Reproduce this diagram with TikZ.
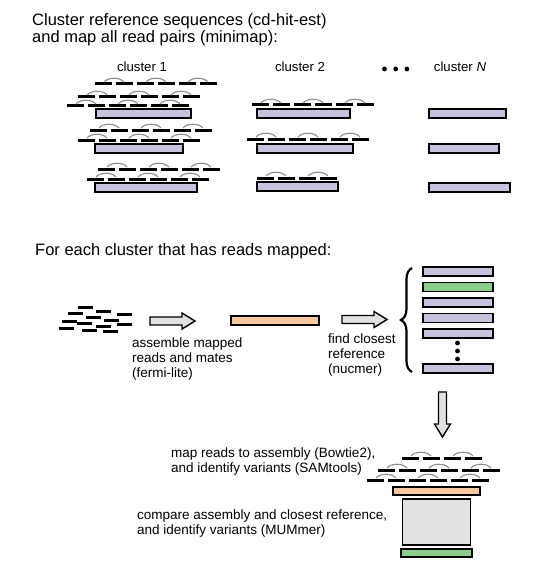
\documentclass[tikz,border=0pt]{standalone}
\usepackage{fontspec}
\setmainfont{Liberation Sans}
\usetikzlibrary{positioning,decorations.pathreplacing}
\definecolor{refpurple}{RGB}{200,194,222}
\definecolor{asmorange}{RGB}{246,200,160}
\definecolor{hitgreen}{RGB}{140,204,140}
\definecolor{boxgray}{RGB}{226,226,226}
\tikzset{
  refbar/.style={rectangle, draw=black, line width=1.6pt, fill=refpurple, minimum height=9, inner sep=0, outer sep=0, anchor=north west},
  asmbar/.style={refbar, fill=asmorange},
  hitbar/.style={refbar, fill=hitgreen},
  cmpbox/.style={refbar, fill=boxgray},
  rd/.style={line width=3pt, black},
  mate/.style={black!45, line width=1.1pt},
  hd/.style={font=\fontsize{16.5}{17}\selectfont, align=left, anchor=north west, inner sep=0},
  lbl/.style={font=\fontsize{13.5}{15}\selectfont, align=left, anchor=north west, inner sep=0},
  cl/.style={font=\fontsize{13.2}{15}\selectfont, inner sep=0},
  blk/.style={draw=black, line width=1.4pt, fill=boxgray, line join=miter},
  readpair/.pic={
    \draw[rd] (0,0) -- (17,0);
    \draw[rd] (21,0) -- (38,0);
    \draw[mate] (9,-2) .. controls (13,-7) and (25,-7) .. (29,-2);
  },
  blockarrow/.pic={
    \draw[blk] (0,-4) -- (32,-4) -- (32,-8) -- (45,0) -- (32,8) -- (32,4) -- (0,4) -- cycle;
  },
  node distance=6.5pt
}

\begin{document}
\begin{tikzpicture}[x=1pt, y=-1pt]
	\useasboundingbox (0,0) rectangle (540,583);
	% clusters
	\node[hd] (title) at (32,13) {Cluster reference sequences (cd-hit-est)\\and map all read pairs (minimap):};
	\node[cl] (lab1) at (142,67) {cluster 1};
	\node[cl] (lab2) at (300,67) {cluster 2};
	\node[cl] (labN) at (460,67) {cluster \textit{N}};
	\foreach \x in {384.5,395.7,406.9} \fill (\x,69) circle (2.4);
	%
	\node[refbar, minimum width=95] (c1a) at (96,109) {};
	\node[refbar, minimum width=88] (c1b) at (95,144) {};
	\node[refbar, minimum width=102] (c1c) at (95,183) {};
	\node[refbar, minimum width=93] (c2a) at (257,109) {};
	\node[refbar, minimum width=96] (c2b) at (257,144) {};
	\node[refbar, minimum width=81] (c2c) at (257,182) {};
	\node[refbar, minimum width=77] (cNa) at (429,109) {};
	\node[refbar, minimum width=70] (cNb) at (429,144) {};
	\node[refbar, minimum width=81] (cNc) at (429,183) {};
	% mapped read pairs
	\foreach \x/\y/\n in {95/84/3, 78/97/3, 67/106/3, 90/130/3, 78/140/3, 98/169/3, 87/179/3,
	                      252/105/3, 247/139/3, 257/178/2, 402/458/2, 378/470/3, 367/480/3}
	  \foreach \k in {1,...,\n}
	    \pic at ({\x+42*(\k-1)},\y) {readpair};
	%
	\node[hd] (each) at (35,243.5) {For each cluster that has reads mapped:};
	\foreach \x/\y in {78/307, 96/311, 68/313, 117/314, 86/317, 104/320, 62/321,
	                   77/323, 117/324, 96/326, 59/328, 82/330, 103/331}
	  \draw[rd] (\x,\y) -- ++(15,0);
	\pic (arr1) at (150,321) {blockarrow};
	\node[asmbar, minimum width=88] (asm) at (231,316) {};
	\node[lbl] (asmtxt) at (132,338) {assemble mapped\\reads and mates\\(fermi-lite)};
	\pic (arr2) at (342,319.5) {blockarrow};
	\node[lbl] (findtxt) at (328,334) {find closest\\reference\\(nucmer)};
	% candidate references
	\node[refbar, minimum width=70] (s1) at (423,267) {};
	\node[hitbar, minimum width=70, below=of s1] (s2) {};
	\node[refbar, minimum width=70, below=of s2] (s3) {};
	\node[refbar, minimum width=70, below=of s3] (s4) {};
	\node[refbar, minimum width=70, below=of s4] (s5) {};
	\node[refbar, minimum width=70] (s6) at (423,364) {};
	\foreach \y in {343,351,359} \fill (457.5,\y) circle (2.4);
	\draw[decorate, decoration={brace, amplitude=11pt}, line width=2.2pt] (412,372) -- (412,268);
	\pic[rotate=-90] (arr3) at (442.5,392) {blockarrow};
	% assembly vs closest reference
	\node[lbl] (maptxt) at (171,448) {map reads to assembly (Bowtie2),\\and identify variants (SAMtools)};
	\node[asmbar, minimum width=87, minimum height=8] (asm2) at (393,487) {};
	\node[cmpbox, minimum width=68, minimum height=46, below=4pt of asm2] (cmp) {};
	\node[hitbar, minimum width=71, minimum height=8, below=4pt of cmp] (best) {};
	\node[lbl] (cmptxt) at (137,510) {compare assembly and closest reference,\\and identify variants (MUMmer)};
\end{tikzpicture}
\end{document}
